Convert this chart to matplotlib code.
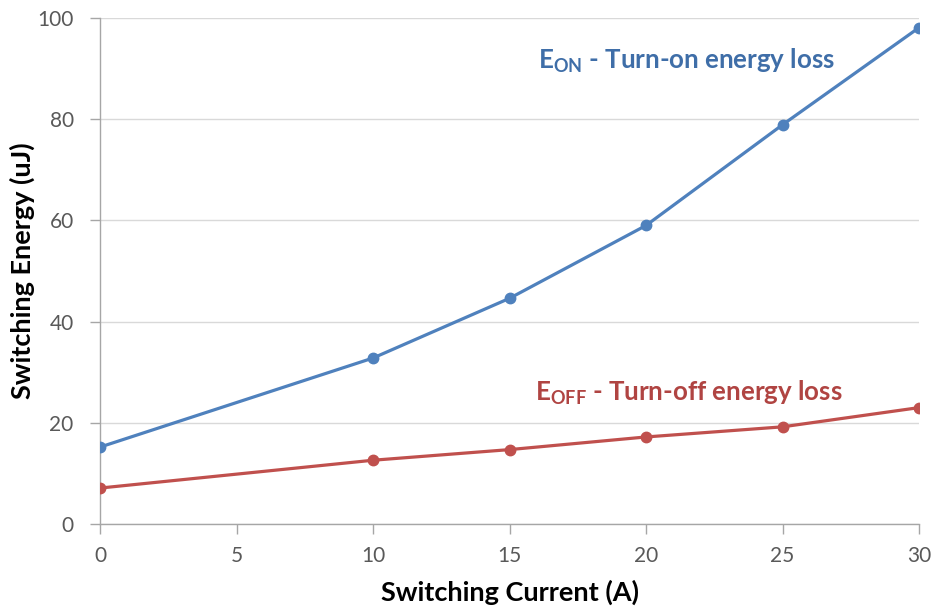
import matplotlib
matplotlib.use("Agg")
import matplotlib.pyplot as plt

current = [0, 10, 15, 20, 25, 30]
e_on = [15.2, 32.8, 44.6, 59.0, 78.9, 98.1]
e_off = [7.1, 12.6, 14.7, 17.2, 19.2, 23.0]
x_ticks = [0, 5, 10, 15, 20, 25, 30]
y_ticks = [0, 20, 40, 60, 80, 100]

plt.rcParams['font.family'] = ['Lato', 'DejaVu Sans']
plt.rcParams['mathtext.fontset'] = 'custom'
plt.rcParams['mathtext.rm'] = 'Lato:bold'
plt.rcParams['mathtext.it'] = 'Lato:bold'
plt.rcParams['mathtext.bf'] = 'Lato:bold'

BLUE = '#4F81BD'
RED = '#C0504D'
GRID = '#D9D9D9'
AXC = '#A6A6A6'
TXT = '#595959'

fig = plt.figure(figsize=(9.33, 6.09), dpi=100)
ax = fig.add_axes([0.1072, 0.1396, 0.985 - 0.1072, 0.9704 - 0.1396])

ax.plot(current, e_on, color=BLUE, lw=2.3, marker='o', ms=7.5, zorder=3)
ax.plot(current, e_off, color=RED, lw=2.3, marker='o', ms=7.5, zorder=3)

ax.set_xlim(0, 30)
ax.set_ylim(0, 100)
ax.set_xticks(x_ticks)
ax.set_yticks(y_ticks)
ax.grid(axis='y', color=GRID, lw=1)
ax.grid(axis='x', visible=False)
ax.set_axisbelow(True)
for s in ['top', 'right']:
    ax.spines[s].set_visible(False)
for s in ['left', 'bottom']:
    ax.spines[s].set_color(AXC)
    ax.spines[s].set_linewidth(1)
ax.tick_params(axis='both', colors=AXC, labelcolor=TXT, labelsize=15, length=7, width=1)
ax.tick_params(axis='x', pad=9)
ax.tick_params(axis='y', pad=12)

ax.set_xlabel('Switching Current (A)', fontsize=19.5, fontweight='bold', color='black', labelpad=10)
ax.set_ylabel('Switching Energy (uJ)', fontsize=19.5, fontweight='bold', color='black')
ax.yaxis.set_label_coords(-0.079, 0.5)

ax.text(16.05, 91.5, r'E$_{\mathrm{ON}}$ - Turn-on energy loss', color='#3F6EA8',
        fontsize=18.6, fontweight='bold', ha='left', va='center')
ax.text(15.95, 26.0, r'E$_{\mathrm{OFF}}$ - Turn-off energy loss', color='#B04442',
        fontsize=18.6, fontweight='bold', ha='left', va='center')

fig.savefig('out.png', dpi=100)
